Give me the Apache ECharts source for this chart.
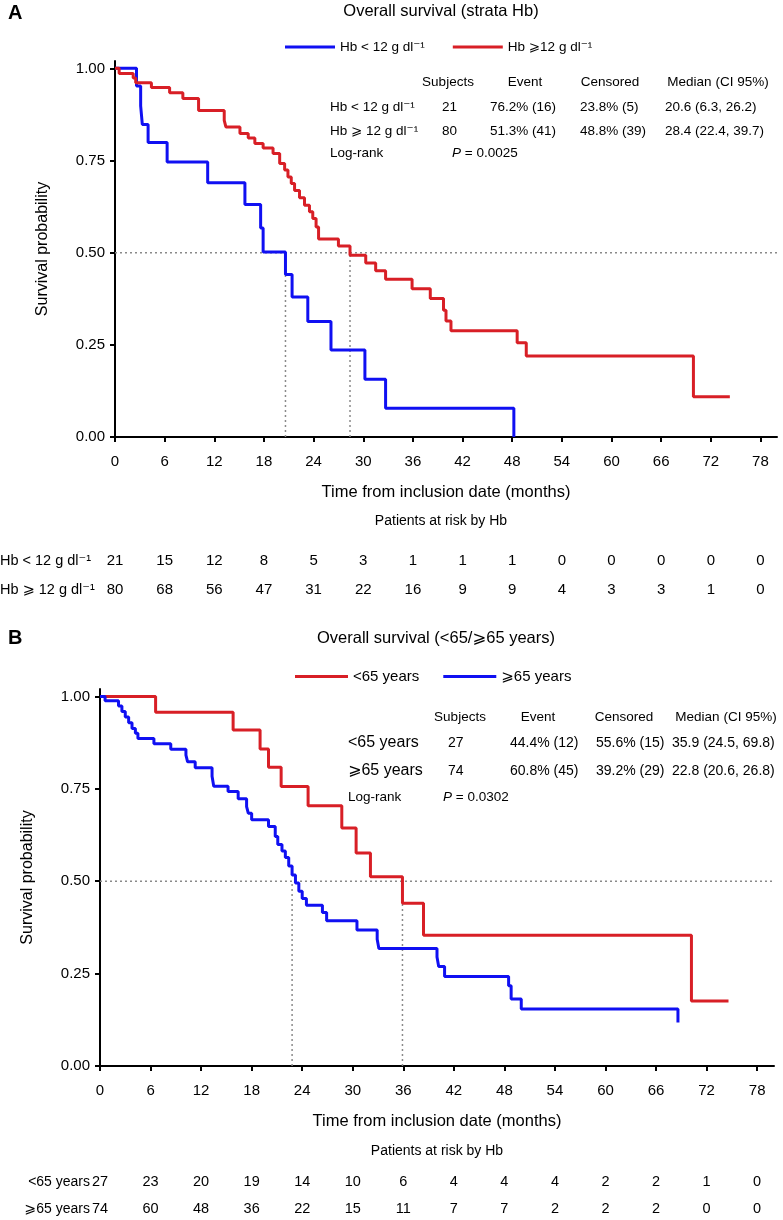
<!DOCTYPE html>
<html><head><meta charset="utf-8">
<script src="https://cdn.jsdelivr.net/npm/echarts@6/dist/echarts.min.js"></script>
<style>html,body{margin:0;padding:0;background:#fff}#c{width:783px;height:1220px}</style>
</head><body><div id="c"></div>
<script>
// ---------- DATA ----------
const xTicks = [0,6,12,18,24,30,36,42,48,54,60,66,72,78];
const yTicks = [0,0.25,0.5,0.75,1];

// Panel A : Hb strata
const aLowName = 'Hb < 12 g dl⁻¹';
const aHighName = 'Hb ⩾12 g dl⁻¹';
const aLowTime = [0,2.6,3.1,3.3,4.0,6.3,11.2,15.7,17.6,17.9,20.6,21.4,23.3,26.1,30.2,32.7,48.2];
const aLowSurv = [1,0.952,0.898,0.848,0.799,0.746,0.690,0.631,0.567,0.502,0.441,0.380,0.313,0.236,0.157,0.078,0];
const aHighTime = [0,0.5,2.2,2.5,4.4,6.6,8.2,10.1,13.2,13.4,15.1,16.1,16.9,17.9,19.1,19.9,20.5,20.9,21.3,21.7,22.3,22.9,23.5,23.9,24.3,24.6,27.0,28.4,30.3,31.5,32.7,35.9,38.1,39.7,40.0,40.6,48.6,49.7,69.9,74.3];
const aHighSurv = [1,0.986,0.974,0.961,0.948,0.934,0.918,0.886,0.859,0.841,0.823,0.811,0.796,0.784,0.769,0.742,0.724,0.705,0.688,0.669,0.649,0.629,0.611,0.593,0.570,0.537,0.518,0.493,0.472,0.451,0.428,0.402,0.376,0.344,0.315,0.288,0.256,0.220,0.109,0.109];
const aMedians = [20.6, 28.4];
const aRiskLow = [21,15,12,8,5,3,1,1,1,0,0,0,0,0];
const aRiskHigh = [80,68,56,47,31,22,16,9,9,4,3,3,1,0];
const aTableHeader = ['Subjects','Event','Censored','Median (CI 95%)'];
const aTableRows = [
  ['Hb < 12 g dl⁻¹','21','76.2% (16)','23.8% (5)','20.6 (6.3, 26.2)'],
  ['Hb ⩾ 12 g dl⁻¹','80','51.3% (41)','48.8% (39)','28.4 (22.4, 39.7)']
];
const aLogRankP = '0.0025';

// Panel B : age strata
const bYoungName = '<65 years';
const bOldName = '⩾65 years';
const bYoungTime = [0,6.6,15.8,19.0,20.0,21.5,24.7,28.7,30.4,32.1,35.9,38.4,70.2,74.6];
const bYoungSurv = [1,0.957,0.909,0.858,0.808,0.756,0.704,0.644,0.576,0.512,0.440,0.354,0.176,0.176];
const bOldTime = [0,0.6,2.2,2.6,3.0,3.4,3.8,4.2,4.5,6.4,8.4,10.2,10.4,11.3,13.3,13.5,15.2,16.4,17.4,17.6,18.0,20.0,20.8,21.1,21.6,22.0,22.4,22.8,23.2,23.6,24.0,24.5,26.4,26.9,30.5,32.9,33.1,40.0,40.2,40.9,48.5,48.8,50.0,68.6];
const bOldSurv = [1,0.988,0.974,0.959,0.944,0.929,0.913,0.900,0.886,0.872,0.857,0.841,0.823,0.807,0.784,0.757,0.743,0.723,0.702,0.684,0.666,0.648,0.621,0.599,0.582,0.564,0.541,0.517,0.495,0.473,0.453,0.435,0.415,0.393,0.368,0.343,0.318,0.295,0.269,0.242,0.217,0.181,0.154,0.118];
const bMedians = [22.8, 35.9];
const bRiskYoung = [27,23,20,19,14,10,6,4,4,4,2,2,1,0];
const bRiskOld = [74,60,48,36,22,15,11,7,7,2,2,2,0,0];
const bTableHeader = ['Subjects','Event','Censored','Median (CI 95%)'];
const bTableRows = [
  ['<65 years','27','44.4% (12)','55.6% (15)','35.9 (24.5, 69.8)'],
  ['⩾65 years','74','60.8% (45)','39.2% (29)','22.8 (20.6, 26.8)']
];
const bLogRankP = '0.0302';

// ---------- CHART ----------
const FONT = '"Liberation Sans", Arial, Helvetica, "DejaVu Sans", sans-serif';
const BLUE = '#1010f2', RED = '#d81f26', GRAY = '#8a8a8a';
const chart = echarts.init(document.getElementById('c'), null, {renderer:'canvas'});

function km(t, s) { return t.map((v, i) => [v, s[i]]); }

function xAxisCfg(gi) {
  return {
    type:'value', gridIndex:gi, min:0, max:80,
    axisLine:{lineStyle:{color:'#000', width:2}},
    axisTick:{length:5, customValues:xTicks, lineStyle:{color:'#000', width:2}},
    axisLabel:{customValues:xTicks, color:'#000', fontSize:15, fontFamily:FONT, margin:17},
    splitLine:{show:false},
    name:'Time from inclusion date (months)', nameLocation:'middle', nameGap:47,
    nameTextStyle:{color:'#000', fontSize:16.5, fontFamily:FONT}
  };
}
function yAxisCfg(gi) {
  return {
    type:'value', gridIndex:gi, min:0, max:1.02,
    axisLine:{show:true, lineStyle:{color:'#000', width:2}},
    axisTick:{show:true, length:5, customValues:yTicks, lineStyle:{color:'#000', width:2}},
    axisLabel:{customValues:yTicks, color:'#000', fontSize:15, fontFamily:FONT, margin:10,
      formatter:v => v.toFixed(2)},
    splitLine:{show:false},
    name:'Survival probability', nameLocation:'middle', nameGap:64, nameRotate:90,
    nameTextStyle:{color:'#000', fontSize:16, fontFamily:FONT}
  };
}
function stepSeries(name, gi, t, s, color) {
  return {name, type:'line', xAxisIndex:gi, yAxisIndex:gi, step:'end', data:km(t, s),
    showSymbol:false, lineStyle:{color, width:3}, itemStyle:{color}, z:5, animation:false};
}
function dotted(gi, pts) {
  return {type:'line', xAxisIndex:gi, yAxisIndex:gi, data:pts, showSymbol:false, silent:true,
    lineStyle:{color:GRAY, width:1.5, type:[2,3]}, z:2, animation:false};
}

const series = [
  dotted(0, [[0,0.5],[80,0.5]]),
  ...aMedians.map(m => dotted(0, [[m,0],[m,0.5]])),
  dotted(1, [[0,0.5],[80,0.5]]),
  ...bMedians.map(m => dotted(1, [[m,0],[m,0.5]])),
  stepSeries(aLowName, 0, aLowTime, aLowSurv, BLUE),
  stepSeries(aHighName, 0, aHighTime, aHighSurv, RED),
  stepSeries(bYoungName, 1, bYoungTime, bYoungSurv, RED),
  stepSeries(bOldName, 1, bOldTime, bOldSurv, BLUE)
];

chart.setOption({
  animation:false,
  grid:[
    {left:115, top:61, width:662, height:376},
    {left:100, top:689, width:674, height:377}
  ],
  xAxis:[xAxisCfg(0), xAxisCfg(1)],
  yAxis:[yAxisCfg(0), yAxisCfg(1)],
  legend:[
    {data:[aLowName, aHighName], left:280, top:35, itemWidth:50, itemHeight:3, icon:'rect', itemGap:28,
     textStyle:{color:'#000', fontSize:13.5, fontFamily:FONT}, selectedMode:false},
    {data:[bYoungName, bOldName], left:290, top:664, itemWidth:53, itemHeight:3, icon:'rect', itemGap:24,
     textStyle:{color:'#000', fontSize:15, fontFamily:FONT}, selectedMode:false}
  ],
  series
});

// ---------- TEXT (titles, tables, risk tables) ----------
const g = [];
function txt(text, x, y, opt) {
  opt = opt || {};
  g.push({type:'text', x, y, silent:true, style:{
    text, fill:'#000', font:(opt.font || '13px ' + FONT),
    textAlign:opt.align || 'left', textVerticalAlign:'middle',
    align:opt.align || 'left', verticalAlign:'middle', rich:opt.rich}});
}
// panel letters and titles
txt('A', 8, 13, {font:'bold 20px ' + FONT});
txt('Overall survival (strata Hb)', 441, 11, {align:'center', font:'16.5px ' + FONT});
txt('B', 8, 638, {font:'bold 20px ' + FONT});
txt('Overall survival (<65/⩾65 years)', 436, 638, {align:'center', font:'16.5px ' + FONT});

// table A
const aHdrX = [448, 525, 610, 718];
aTableHeader.forEach((h, i) => txt(h, aHdrX[i], 82, {align:'center', font:'13.5px ' + FONT}));
const aColX = [330, 442, 490, 580, 665];
aTableRows.forEach((r, ri) => r.forEach((c, ci) => txt(c, aColX[ci], 107 + ri * 24, {font:'13.5px ' + FONT})));
txt('Log-rank', 330, 153, {font:'13.5px ' + FONT});
txt('{i|P} = ' + aLogRankP, 452, 153, {font:'13.5px ' + FONT, rich:{i:{fontStyle:'italic', fontSize:13.5, fontFamily:FONT}}});

// table B
const bHdrX = [460, 538, 624, 726];
bTableHeader.forEach((h, i) => txt(h, bHdrX[i], 717, {align:'center', font:'13.5px ' + FONT}));
const bColX = [348, 448, 510, 596, 672];
bTableRows.forEach((r, ri) => r.forEach((c, ci) => txt(c, bColX[ci], 743 + ri * 28,
  {font:(ci === 0 ? '16px ' : '14px ') + FONT})));
txt('Log-rank', 348, 797, {font:'13.5px ' + FONT});
txt('{i|P} = ' + bLogRankP, 443, 797, {font:'13.5px ' + FONT, rich:{i:{fontStyle:'italic', fontSize:13.5, fontFamily:FONT}}});

// risk tables
txt('Patients at risk by Hb', 441, 521, {align:'center', font:'14px ' + FONT});
txt(aLowName, 0, 561, {font:'14.5px ' + FONT});
txt('Hb ⩾ 12 g dl⁻¹', 0, 590, {font:'14.5px ' + FONT});
xTicks.forEach((t, i) => {
  const px = chart.convertToPixel({xAxisIndex:0}, t);
  txt(String(aRiskLow[i]), px, 561, {align:'center', font:'15px ' + FONT});
  txt(String(aRiskHigh[i]), px, 590, {align:'center', font:'15px ' + FONT});
});
txt('Patients at risk by Hb', 437, 1151, {align:'center', font:'14px ' + FONT});
txt(bYoungName, 90, 1182, {align:'right', font:'14px ' + FONT});
txt(bOldName, 90, 1209, {align:'right', font:'14px ' + FONT});
xTicks.forEach((t, i) => {
  const px = chart.convertToPixel({xAxisIndex:1}, t);
  txt(String(bRiskYoung[i]), px, 1182, {align:'center', font:'14.5px ' + FONT});
  txt(String(bRiskOld[i]), px, 1209, {align:'center', font:'14.5px ' + FONT});
});
chart.setOption({graphic:{elements:g}});
</script>
</body></html>
